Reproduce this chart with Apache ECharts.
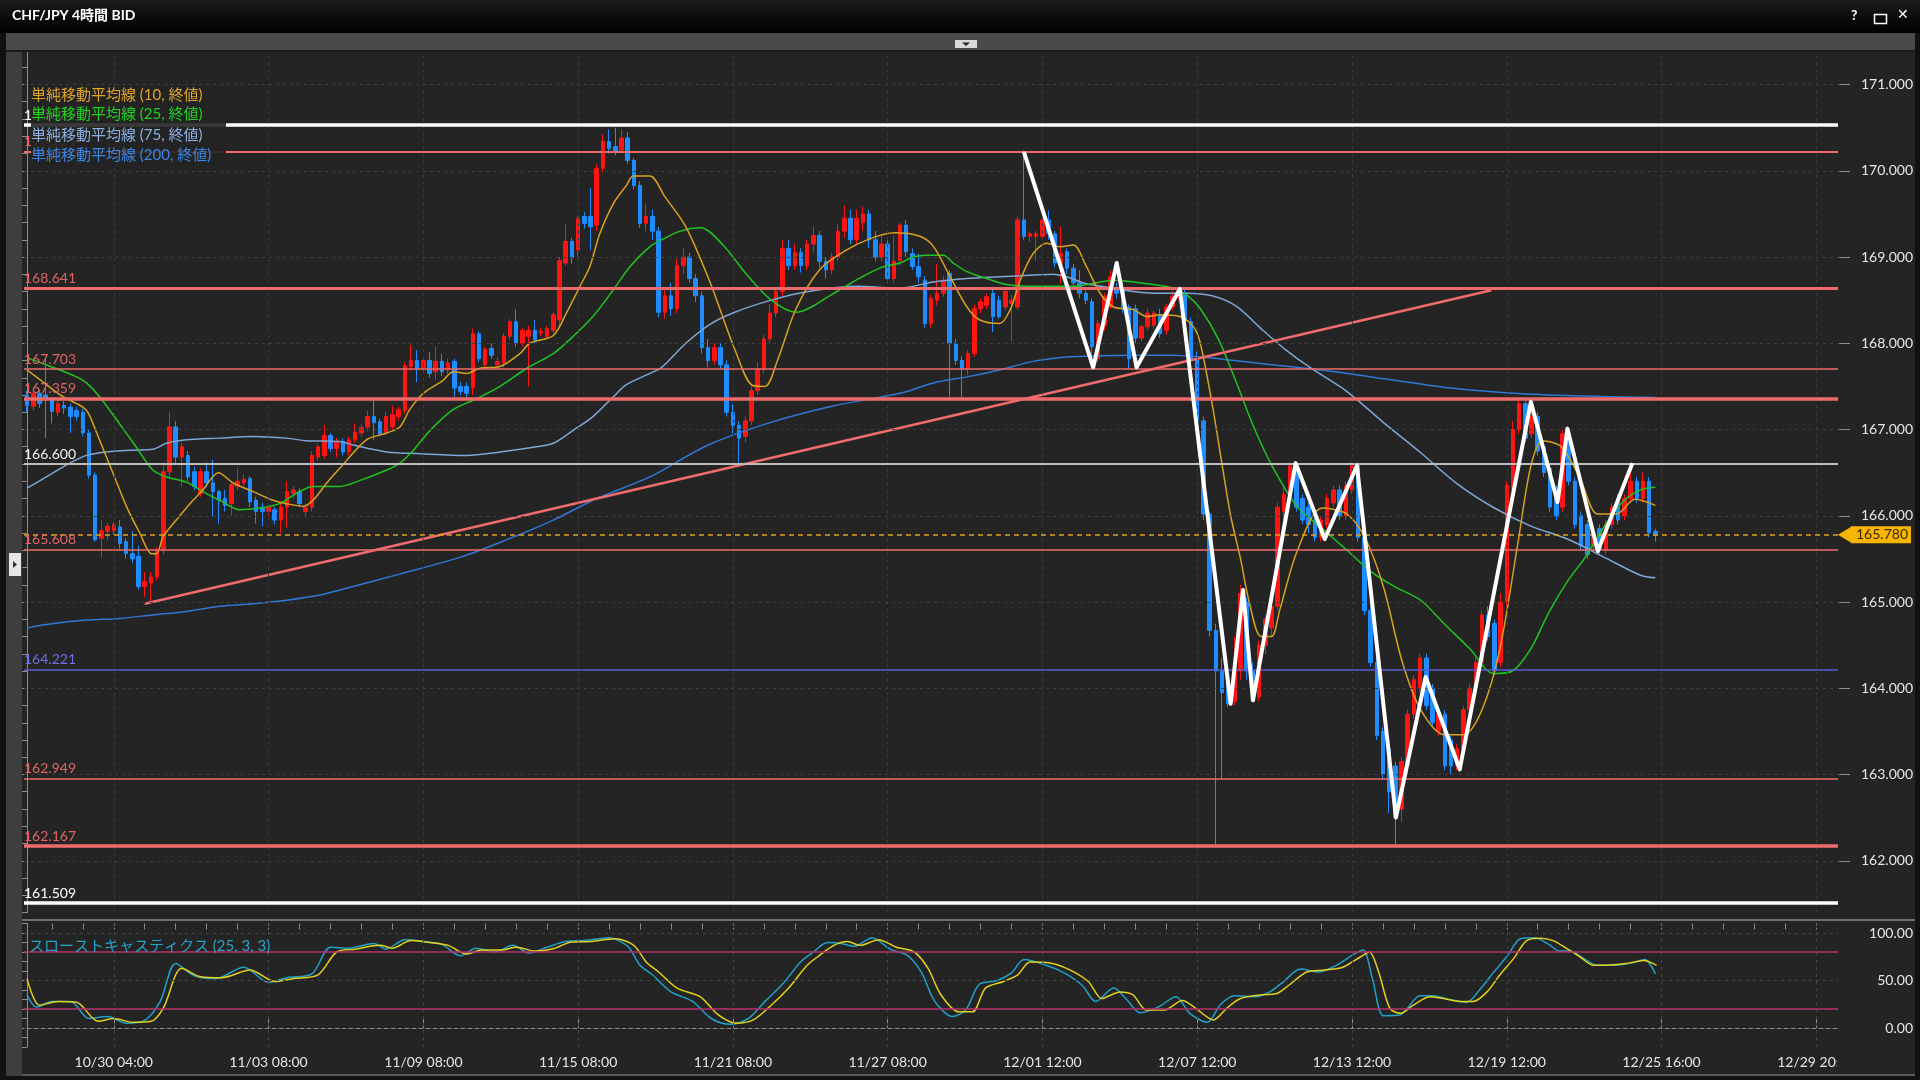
<!DOCTYPE html>
<html><head><meta charset="utf-8">
<script src="https://cdn.jsdelivr.net/npm/echarts@6/dist/echarts.min.js"></script>
<style>html,body{margin:0;padding:0;background:#000;}#c{width:1920px;height:1080px;}</style>
</head><body><div id="c"></div>
<script>
// ---------- DATA ----------
const timeLabels = ['10/30 04:00','11/03 08:00','11/09 08:00','11/15 08:00','11/21 08:00','11/27 08:00','12/01 12:00','12/07 12:00','12/13 12:00','12/19 12:00','12/25 16:00','12/29 20:00'];
const firstLabelIndex = 14, labelStep = 25, minorStep = 5, slotCount = 293;

// [open, close, low, high]
const candles = [
[167.39,167.28,167.20,167.45],[167.27,167.42,167.22,167.48],[167.42,167.30,167.25,167.46],[167.40,167.36,166.90,167.82],[167.34,167.21,167.07,167.38],
[167.20,167.30,167.15,167.35],[167.28,167.25,167.18,167.33],[167.26,167.15,166.96,167.30],[167.22,167.15,167.10,167.26],[167.20,166.96,166.92,167.24],
[166.96,166.47,166.43,167.00],[166.47,165.72,165.70,166.50],[165.74,165.83,165.52,165.95],[165.82,165.88,165.72,165.92],[165.83,165.90,165.78,165.93],
[165.87,165.68,165.62,165.95],[165.70,165.56,165.50,165.74],[165.56,165.50,165.45,165.82],[165.53,165.18,165.14,165.65],[165.18,165.24,165.06,165.35],
[165.22,165.29,165.00,165.35],[165.29,165.60,165.25,165.64],[165.60,166.51,165.55,166.60],[166.51,167.03,166.45,167.20],[167.03,166.68,166.60,167.10],
[166.68,166.80,166.34,166.85],[166.70,166.45,166.40,166.75],[166.51,166.34,166.30,166.57],[166.26,166.51,166.22,166.55],[166.51,166.38,166.33,166.62],
[166.38,166.28,165.99,166.65],[166.28,166.18,165.91,166.30],[166.20,166.12,166.05,166.30],[166.14,166.36,166.00,166.40],[166.34,166.40,166.30,166.55],
[166.38,166.42,166.34,166.48],[166.43,166.16,166.10,166.46],[166.18,166.05,165.91,166.22],[166.10,166.05,165.88,166.15],[166.05,166.10,166.00,166.14],
[166.07,165.95,165.90,166.10],[165.95,166.10,165.80,166.14],[166.10,166.28,165.86,166.40],[166.26,166.30,166.20,166.34],[166.28,166.14,166.10,166.32],
[166.05,166.10,166.00,166.14],[166.10,166.70,166.05,166.75],[166.68,166.80,166.64,166.84],[166.70,166.93,166.66,167.05],[166.93,166.78,166.74,166.96],
[166.78,166.86,166.68,166.90],[166.86,166.74,166.70,166.90],[166.74,166.88,166.70,166.92],[166.88,166.97,166.84,167.07],[166.96,167.02,166.92,167.06],
[167.03,167.15,166.98,167.22],[167.15,167.08,166.88,167.35],[167.09,166.95,166.92,167.12],[166.97,167.15,166.94,167.20],[167.03,167.17,167.00,167.28],
[167.15,167.23,167.10,167.26],[167.22,167.74,167.18,167.78],[167.73,167.80,167.68,167.98],[167.80,167.71,167.55,167.92],[167.72,167.80,167.66,167.84],
[167.80,167.65,167.60,167.90],[167.67,167.79,167.57,167.96],[167.79,167.67,167.62,167.88],[167.69,167.77,167.64,167.82],[167.79,167.48,167.38,167.82],
[167.50,167.44,167.40,167.55],[167.50,167.42,167.35,167.54],[167.48,168.11,167.40,168.17],[168.11,167.82,167.78,168.14],[167.75,167.93,167.70,167.96],
[167.94,167.86,167.82,168.00],[167.75,167.79,167.70,167.84],[167.77,168.08,167.72,168.12],[168.08,168.25,168.04,168.28],[168.25,168.00,167.96,168.39],
[168.00,168.15,167.96,168.18],[168.08,168.15,167.50,168.20],[168.15,168.04,168.00,168.27],[168.12,168.14,168.08,168.18],[168.08,168.17,168.05,168.20],
[168.15,168.33,168.10,168.36],[168.27,168.96,168.20,169.00],[168.93,169.18,168.90,169.39],[169.18,168.99,168.92,169.22],[169.08,169.45,169.00,169.48],
[169.47,169.39,169.33,169.52],[169.47,169.35,169.08,169.80],[169.37,170.03,169.30,170.08],[170.03,170.34,169.98,170.42],[170.34,170.26,170.20,170.48],
[170.28,170.22,170.18,170.50],[170.24,170.38,170.20,170.48],[170.38,170.12,170.08,170.45],[170.12,169.83,169.78,170.15],[169.83,169.39,169.34,169.88],
[169.39,169.47,169.30,169.62],[169.47,169.30,169.20,169.55],[169.30,168.36,168.30,169.35],[168.36,168.55,168.28,168.62],[168.55,168.40,168.32,168.70],
[168.40,168.90,168.35,168.98],[168.90,169.00,168.80,169.10],[169.00,168.75,168.70,169.05],[168.75,168.55,168.48,168.80],[168.55,167.95,167.88,168.60],
[167.95,167.80,167.72,168.05],[167.80,167.95,167.75,168.00],[167.95,167.75,167.70,168.00],[167.75,167.20,167.15,167.80],[167.20,167.05,166.95,167.30],
[167.05,166.90,166.60,167.10],[166.92,167.10,166.85,167.15],[167.10,167.45,167.05,167.50],[167.45,167.70,167.40,167.78],[167.70,168.05,167.65,168.10],
[168.05,168.35,168.00,168.45],[168.35,168.60,168.30,168.65],[168.60,169.10,168.55,169.20],[169.10,168.90,168.85,169.20],[168.90,169.05,168.85,169.15],
[169.05,168.90,168.82,169.10],[168.90,169.15,168.85,169.20],[169.15,169.25,169.05,169.35],[169.25,168.95,168.88,169.30],[168.95,168.85,168.75,169.00],
[168.85,169.00,168.80,169.05],[169.00,169.30,168.95,169.38],[169.30,169.45,169.22,169.60],[169.45,169.20,169.15,169.55],[169.20,169.45,169.15,169.55],
[169.40,169.50,169.30,169.58],[169.50,169.20,169.10,169.55],[169.20,169.00,168.95,169.30],[169.00,169.15,168.95,169.25],[169.15,168.75,168.70,169.20],
[168.75,168.95,168.70,169.25],[168.96,169.37,168.90,169.40],[169.37,169.06,169.00,169.43],[169.04,168.89,168.85,169.10],[168.89,168.77,168.70,169.04],
[168.73,168.23,168.18,168.78],[168.23,168.52,168.18,168.56],[168.50,168.58,168.44,168.92],[168.58,168.73,168.54,168.78],[168.81,168.00,167.38,168.85],
[168.00,167.80,167.75,168.05],[167.80,167.71,167.38,167.85],[167.71,167.88,167.63,167.92],[167.88,168.40,167.84,168.45],[168.40,168.48,168.35,168.52],
[168.44,168.54,168.40,168.58],[168.58,168.31,168.13,168.62],[168.50,168.31,168.28,168.55],[168.42,168.60,168.38,168.64],[168.46,168.50,168.02,168.56],
[168.42,169.43,168.38,169.47],[169.43,169.24,169.20,170.24],[169.24,169.27,169.18,169.30],[169.24,169.27,168.96,169.30],[169.24,169.43,169.20,169.47],
[169.43,169.27,169.20,169.54],[169.27,168.93,168.88,169.30],[168.93,169.04,168.69,169.35],[169.06,168.87,168.80,169.10],[168.87,168.70,168.65,168.92],
[168.70,168.58,168.52,168.85],[168.58,168.50,168.45,168.62],[168.48,167.96,167.70,168.52],[167.82,168.23,167.78,168.27],[168.20,168.54,168.15,168.58],
[168.42,168.77,168.40,168.85],[168.64,168.58,168.52,168.70],[168.62,168.40,168.35,168.70],[168.42,167.82,167.71,168.45],[168.40,168.06,168.00,168.45],
[168.06,168.19,168.02,168.22],[168.19,168.35,168.15,168.40],[168.21,168.35,168.17,168.38],[168.33,168.11,168.06,168.40],[168.15,168.42,168.10,168.46],
[168.42,168.54,168.38,168.60],[168.54,168.60,168.50,168.65],[168.58,168.27,168.22,168.62],[168.25,167.82,167.75,168.30],[167.82,167.10,167.05,167.90],
[167.10,166.02,165.95,167.15],[166.02,164.67,164.60,166.05],[164.67,164.20,162.18,164.75],[164.20,163.95,162.95,164.35],[164.10,163.82,163.78,164.25],
[163.85,164.20,163.80,164.60],[164.20,165.10,164.10,165.20],[165.00,164.20,164.10,165.05],[164.20,163.90,163.85,164.30],[163.90,164.50,163.85,164.55],
[164.50,164.80,164.40,164.85],[164.70,164.95,164.60,165.00],[164.95,166.10,164.90,166.15],[166.05,166.25,165.95,166.35],[166.20,166.58,166.10,166.62],
[166.55,166.10,166.05,166.60],[166.20,165.95,165.90,166.25],[166.10,165.90,165.80,166.15],[165.95,165.75,165.70,166.00],[165.75,165.95,165.70,166.00],
[165.90,166.20,165.85,166.25],[166.15,166.30,166.10,166.35],[166.30,166.00,165.95,166.35],[166.00,166.35,165.95,166.40],[166.30,166.58,166.25,166.62],
[166.58,165.75,165.70,166.62],[165.75,164.90,164.85,165.80],[164.90,164.30,164.25,164.95],[164.30,163.45,163.40,164.35],[163.50,163.00,162.95,163.55],
[163.30,162.80,162.55,163.35],[163.10,162.50,162.18,163.15],[162.60,163.15,162.45,163.20],[163.10,163.70,163.00,163.75],[163.70,164.10,163.65,164.15],
[164.00,164.35,163.95,164.40],[164.35,163.80,163.75,164.40],[164.00,163.60,163.55,164.05],[163.50,163.70,163.45,163.75],[163.70,163.10,163.05,163.75],
[163.40,163.10,163.00,163.45],[163.10,163.30,163.05,163.35],[163.30,163.75,163.25,163.80],[163.75,164.00,163.70,164.05],[164.00,164.30,163.95,164.35],
[164.30,164.85,164.25,164.90],[164.85,164.60,164.55,164.95],[164.75,164.20,164.15,164.80],[164.30,165.00,164.25,165.10],[165.00,166.35,164.95,166.40],
[166.30,167.00,166.25,167.10],[167.00,167.30,166.95,167.38],[167.30,166.90,166.85,167.35],[166.95,167.15,166.90,167.25],[167.15,166.75,166.70,167.20],
[166.80,166.50,166.45,166.85],[166.55,166.10,166.05,166.60],[166.30,166.00,165.95,166.35],[166.10,166.95,166.05,167.00],[166.95,166.40,166.35,167.00],
[166.40,165.90,165.85,166.45],[166.00,165.65,165.60,166.05],[165.90,165.55,165.50,165.95],[165.65,165.80,165.60,165.85],[165.85,165.60,165.55,165.90],
[165.60,165.90,165.55,165.95],[165.90,166.10,165.85,166.15],[166.20,165.95,165.90,166.25],[166.00,166.20,165.95,166.25],[166.20,166.40,166.15,166.60],
[166.40,166.20,166.15,166.45],[166.20,166.40,166.15,166.50],[166.40,165.80,165.75,166.45],[165.82,165.78,165.70,165.85]
];

// moving averages: [bar index, value]
const ma10 = [[0,167.69],[2.6,167.55],[5.8,167.38],[9,167.26],[9.9,167.19],[11.7,166.88],[13.9,166.49],[16.1,166.10],[18.2,165.80],[20.1,165.56],[20.9,165.56],[22,165.76],[24.1,165.95],[26.3,166.14],[28.4,166.30],[30.9,166.50],[33.3,166.38],[36.5,166.28],[39.7,166.18],[41.9,166.14],[44.6,166.11],[46.2,166.18],[48.4,166.38],[50.5,166.55],[54.8,166.88],[58.1,166.96],[60.2,167.03],[61.8,167.23],[64,167.42],[67.2,167.57],[68.8,167.67],[71,167.65],[73.1,167.71],[76.4,167.73],[79.6,167.88],[81.2,168.0],[85,168.09],[87.1,168.35],[89.3,168.66],[90.9,168.89],[92.5,169.27],[94.7,169.62],[96.8,169.83],[97.9,169.94],[100.6,169.94],[103,169.70],[106.4,169.35],[110.3,168.71],[114.3,167.93],[117.2,167.51],[119.2,167.50],[121.2,167.80],[124.2,168.40],[128.1,168.86],[132.1,169.07],[136.1,169.21],[140.1,169.28],[144.2,169.24],[146.4,169.12],[149.1,168.77],[151.8,168.42],[153.9,168.27],[157.1,168.23],[158.8,168.39],[160.4,168.73],[162.5,169.04],[164.7,169.16],[166.8,169.12],[169,169.14],[171.1,168.89],[173.3,168.58],[175.5,168.42],[178.7,168.39],[180.8,168.31],[183,168.33],[186.2,168.31],[188.4,168.19],[189.5,168.0],[191.4,167.3],[193,166.6],[194.4,166.0],[196,165.5],[197.4,165.0],[199.3,164.6],[201,164.6],[202.3,164.9],[205.2,165.6],[209.2,166.09],[213.2,166.02],[216.2,165.73],[219.1,165.17],[222.1,164.31],[225.1,163.75],[229,163.46],[232,163.46],[235,163.75],[237.9,164.46],[240.9,165.73],[242.9,166.58],[244.8,166.87],[247.8,166.80],[250.8,166.44],[253.7,166.02],[256.7,166.02],[259.7,166.19],[263,166.12]];
const ma25 = [[0,167.83],[3.1,167.75],[8,167.61],[9.6,167.54],[11.7,167.38],[14.9,167.07],[17.6,166.80],[20.3,166.53],[22.5,166.45],[25.7,166.39],[28.9,166.26],[31.1,166.18],[34.3,166.07],[37.6,166.09],[40.8,166.14],[43.5,166.26],[46.2,166.34],[50.5,166.34],[53.8,166.41],[58.1,166.53],[60.2,166.61],[62.4,166.76],[65.1,166.99],[68.8,167.23],[72.1,167.34],[76.4,167.50],[80.7,167.71],[85,167.88],[88.2,168.08],[91.4,168.31],[94.7,168.62],[97.4,168.89],[100.6,169.12],[102.5,169.20],[105.5,169.30],[108.8,169.34],[112.4,169.14],[116.3,168.79],[120.2,168.50],[124.2,168.36],[130.1,168.57],[134.1,168.74],[138,168.88],[141,168.93],[143.1,169.0],[145.3,169.02],[148,169.02],[149.6,168.93],[151.8,168.83],[155,168.75],[158.2,168.68],[161.5,168.66],[165.2,168.66],[169,168.66],[171.1,168.68],[175.5,168.73],[178.7,168.71],[181.9,168.68],[185.1,168.64],[187.3,168.56],[189.5,168.40],[192.4,168.05],[195.3,167.55],[198.3,167.0],[201.3,166.55],[205.2,166.1],[209.2,165.85],[213.2,165.6],[217.1,165.35],[221.1,165.17],[225.1,165.02],[229,164.74],[233,164.46],[236.9,164.17],[239.9,164.20],[242.9,164.46],[245.8,164.88],[248.8,165.24],[251.7,165.52],[254.7,165.87],[257.7,166.16],[260.6,166.30],[263,166.33]];
const ma75 = [[0,166.32],[3.1,166.45],[6.9,166.61],[9.6,166.70],[12.9,166.74],[16.7,166.76],[20.3,166.77],[22.5,166.84],[25.7,166.88],[31.1,166.90],[36.5,166.92],[41.9,166.90],[45.1,166.87],[50.5,166.86],[52.7,166.82],[58.1,166.74],[63.4,166.72],[71,166.70],[76.4,166.74],[82.3,166.80],[85,166.84],[88.2,166.99],[91.4,167.15],[94.7,167.38],[96.8,167.52],[100.6,167.65],[102.5,167.72],[106.4,168.0],[110.3,168.22],[114.3,168.36],[120.2,168.50],[126.2,168.60],[134.1,168.66],[141,168.64],[146.4,168.71],[151.8,168.75],[157.1,168.77],[162.5,168.79],[165.8,168.80],[167.9,168.77],[171.1,168.69],[175.5,168.64],[178.7,168.60],[181.9,168.58],[187.3,168.58],[191.4,168.55],[195.3,168.43],[199.3,168.17],[203.2,167.93],[207.2,167.72],[213.2,167.44],[219.1,167.08],[225.1,166.73],[231,166.37],[237,166.09],[242.9,165.88],[248.8,165.73],[254.7,165.52],[260.6,165.31],[263,165.28]];
const ma200 = [[0,164.70],[4.2,164.75],[9.6,164.79],[15,164.81],[20.3,164.85],[25.7,164.89],[31.1,164.95],[36.5,164.98],[41.9,165.02],[47.3,165.08],[50.5,165.14],[60,165.32],[70,165.52],[77.4,165.72],[85,165.95],[92,166.2],[100.6,166.45],[110,166.82],[120,167.08],[130,167.27],[141,167.42],[146.4,167.54],[151.8,167.61],[157.1,167.69],[162.5,167.79],[167.9,167.84],[171.1,167.85],[178.7,167.86],[185,167.86],[189.5,167.84],[195,167.80],[200,167.76],[210,167.68],[220,167.58],[230,167.48],[240,167.42],[250,167.39],[263,167.37]];

// slow stochastics: [bar index, value]
const stochD = [[0,52],[2,24],[5,28],[8,27],[11.5,7],[14,10],[17,6],[20,7],[22,21],[25,63],[28,54],[31.5,53],[36,61],[40,49],[43,52],[47,56],[50,80],[53,83],[57,87],[59,84],[62,92],[65,90],[68,87],[71,78],[73.5,82],[76.5,82],[79,85],[82,81],[85,83.5],[88,90.5],[91,91],[95,94],[98,87],[100,69.5],[102,59],[105,42],[108.7,33],[111.6,14],[114.5,5],[117.3,8.5],[120.2,24],[123,42],[126,66],[128,76.5],[130.3,87],[132.5,91],[134.6,87],[137.5,93],[140.4,85],[143.3,80],[145.5,63],[147.6,35],[150.5,17],[152.7,17],[154.8,42],[157.7,49],[160,56],[162,69.5],[165.6,68],[168.5,61],[171.4,49],[173.6,31],[176.5,38],[178.6,35],[180.8,19],[183.7,19],[186.6,29],[188.7,21],[191.6,8.5],[193.8,21],[196,31],[199.5,35],[201.7,36],[203.8,45],[206.7,59],[209.6,61],[212.5,64],[215.4,75],[216.8,80],[218.3,59],[220.1,21],[221.8,15.5],[223.9,24],[226.6,33],[228.8,31],[231.5,28],[233.6,28],[235.8,38],[237.9,56],[240.1,73],[242.2,92],[244.4,94.6],[246.5,92],[248.7,83.5],[250.8,75],[253,66],[255.1,66],[258.4,68],[261.1,71],[263.2,66]];
const stochK = [[0,35],[1.5,22],[4,28],[7,28],[10,10],[13,12],[16,5],[19,8],[21.5,28],[24,68],[27,55],[30.5,52],[35,64],[39,48],[42,53],[46,57],[49,85],[52,84],[56,89],[58,83],[61,93],[64,91],[67,88],[70,76],[72.5,84],[75.5,80],[78.5,87],[81,79],[84,85],[87,91],[90,92],[94,95],[97,86],[99,66],[101,56],[104,38],[107.5,28],[110.5,10],[113.5,4],[116.5,10],[119.2,28],[122,46],[125,70],[127,80],[129.3,90],[131.5,89],[133.6,86],[136.5,95],[139.4,83],[142.3,76],[144.5,58],[146.6,28],[149.5,12],[151.7,20],[153.8,46],[156.7,50],[159,58],[161,72],[164.6,66],[167.5,58],[170.4,45],[172.6,28],[175.5,42],[177.6,30],[179.8,16],[182.7,22],[185.6,33],[187.7,16],[190.6,6],[192.8,25],[195,34],[198.5,33],[200.7,38],[202.8,48],[205.7,62],[208.6,59],[211.5,66],[214.4,78],[215.8,82],[217.3,52],[219.1,13],[221.8,14],[225,34],[227,34],[229.8,30],[232.5,27],[234.6,40],[236.8,58],[239.1,76],[241.2,94],[243.5,95],[245.8,88],[247.5,81],[249.2,81],[251.5,73],[253.5,66],[256.5,66],[259.5,69],[261.3,72],[263,57]];

// horizontal price levels (values only)
const levelValues = [170.532, 170.221, 168.641, 167.703, 167.359, 166.600, 165.608, 164.221, 162.949, 162.167, 161.509];
const currentPrice = 165.780;
const trendLine = [[19, 164.98], [236.5, 168.615]];
const zigzag = [[161.0,170.22],[172.2,167.72],[176.0,168.93],[179.2,167.72],[186.2,168.63],[194.4,163.82],[196.4,165.14],[198.0,163.86],[204.9,166.61],[209.6,165.73],[214.8,166.58],[221.1,162.50],[225.9,164.13],[231.4,163.06],[242.9,167.32],[247.2,166.16],[248.8,167.01],[253.7,165.59],[259.3,166.61]];
const priceTicks = [162,163,164,165,166,167,168,169,170,171];
const stochLabelTicks = [0, 50, 100];
const stochBands = [20, 80];
const legendTexts = ['単純移動平均線 (10, 終値)', '単純移動平均線 (25, 終値)', '単純移動平均線 (75, 終値)', '単純移動平均線 (200, 終値)'];
const stochTitle = 'スローストキャスティクス (25, 3, 3)';
const chartTitle = 'CHF/JPY 4時間 BID';

// ---------- STYLES ----------
const FONT = "Lato, 'Noto Sans CJK JP', sans-serif";
const RED = '#ef6b6b', WHITE = '#ffffff';
const levelStyles = [
  {c: WHITE, w: 3.5, t: '#ffffff'},
  {c: RED, w: 2, t: '#e06464'},
  {c: RED, w: 3, t: '#e06464'},
  {c: RED, w: 1.5, t: '#e06464'},
  {c: RED, w: 3.5, t: '#e06464'},
  {c: '#bdbdbd', w: 2, t: '#f0f0f0'},
  {c: RED, w: 1.5, t: '#e06464'},
  {c: '#5a5ad6', w: 1.5, t: '#7070e8'},
  {c: RED, w: 1.5, t: '#e06464'},
  {c: RED, w: 3.5, t: '#e06464'},
  {c: WHITE, w: 3.5, t: '#ffffff'}
];
const legendColors = ['#e0a528', '#1fd41f', '#8cb2e4', '#3a86e6'];
const legendTops = [88, 107, 128, 148];

const cats = Array.from({length: slotCount}, (_, i) => String(i));
const isMajor = i => i >= firstLabelIndex && (i - firstLabelIndex) % labelStep === 0;
const isMinor = i => (((i - firstLabelIndex) % minorStep) + minorStep) % minorStep === 0;
const majorIdx = cats.map((_, i) => i).filter(isMajor);

const chart = echarts.init(document.getElementById('c'), null, {renderer: 'canvas'});
const axisGray = '#8c8c8c';
const BG = '#242424';

const option = {
  backgroundColor: BG,
  animation: false,
  textStyle: {fontFamily: FONT},
  grid: [
    {left: 24, top: 50, width: 1814, height: 862.5},
    {left: 24, top: 923.5, width: 1814, height: 123.5}
  ],
  xAxis: [
    {type: 'category', gridIndex: 0, data: cats, axisLine: {show: false}, axisTick: {show: false}, axisLabel: {show: false}, splitLine: {show: false}},
    {type: 'category', gridIndex: 1, data: cats, axisLine: {show: true, lineStyle: {color: axisGray}},
      axisTick: {show: true, alignWithLabel: true, inside: true, length: 12, interval: (i) => isMajor(i), lineStyle: {color: axisGray}},
      axisLabel: {show: true, interval: (i) => isMajor(i), formatter: (v, i) => timeLabels[(i - firstLabelIndex) / labelStep] || '', color: '#e6e6e6', fontSize: 14, margin: 8, fontFamily: FONT},
      splitLine: {show: false}},
    {type: 'category', gridIndex: 1, data: cats, axisLine: {show: false},
      axisTick: {show: true, alignWithLabel: true, inside: true, length: 6, interval: (i) => isMinor(i), lineStyle: {color: axisGray}},
      axisLabel: {show: false}, splitLine: {show: false}},
    {type: 'value', gridIndex: 0, min: -0.5, max: slotCount - 0.5, show: false},
    {type: 'value', gridIndex: 1, min: -0.5, max: slotCount - 0.5, show: false}
  ],
  yAxis: [
    {type: 'value', gridIndex: 0, position: 'right', offset: 12, min: 161.4, max: 171.4, interval: 0.2,
      axisLine: {show: true, lineStyle: {color: axisGray}},
      axisTick: {show: true, inside: true, length: 5, lineStyle: {color: axisGray}},
      axisLabel: {color: '#e6e6e6', fontSize: 14, align: 'right', margin: 63, fontFamily: FONT,
        formatter: v => Math.abs(v - Math.round(v)) < 1e-6 ? Math.round(v).toFixed(3) : ''},
      splitLine: {show: false}},
    {type: 'value', gridIndex: 0, position: 'right', offset: 12, min: 161.4, max: 171.4,
      axisLine: {show: false},
      axisTick: {show: true, inside: true, length: 11, customValues: priceTicks, lineStyle: {color: axisGray}},
      axisLabel: {show: false}, splitLine: {show: false}},
    {type: 'value', gridIndex: 1, position: 'right', offset: 12, min: -20, max: 110, interval: 10,
      axisLine: {show: true, lineStyle: {color: axisGray}},
      axisTick: {show: true, inside: true, length: 6, lineStyle: {color: axisGray}},
      axisLabel: {color: '#e6e6e6', fontSize: 14, align: 'right', margin: 63, fontFamily: FONT,
        formatter: v => stochLabelTicks.indexOf(Math.round(v)) >= 0 && Math.abs(v - Math.round(v)) < 1e-6 ? v.toFixed(2) : ''},
      splitLine: {show: false}}
  ],
  series: [
    {type: 'line', xAxisIndex: 3, yAxisIndex: 0, data: [], z: 1, silent: true,
      markLine: {silent: true, symbol: ['none', 'none'], animation: false, label: {show: false},
        lineStyle: {color: '#3d3d3d', type: [3, 4], width: 1},
        data: priceTicks.map(v => ({yAxis: v})).concat(majorIdx.map(i => ({xAxis: i})))}},
    {type: 'line', xAxisIndex: 4, yAxisIndex: 2, data: [], z: 1, silent: true,
      markLine: {silent: true, symbol: ['none', 'none'], animation: false, label: {show: false},
        lineStyle: {color: '#444444', type: [3, 4], width: 1},
        data: stochLabelTicks.map(v => ({yAxis: v})).concat(majorIdx.map(i => ({xAxis: i})))
          .concat(stochBands.map(v => ({yAxis: v, lineStyle: {color: '#b8306c', type: 'solid', width: 1.5}})))}},
    {type: 'candlestick', name: 'CHF/JPY', xAxisIndex: 0, yAxisIndex: 0, data: candles, barWidth: 4, z: 2,
      itemStyle: {color: '#ff1414', color0: '#1f8cff', borderColor: '#ff1414', borderColor0: '#1f8cff', borderWidth: 1}},
    {type: 'line', name: 'MA200', xAxisIndex: 3, yAxisIndex: 0, data: ma200, showSymbol: false, smooth: 0.3, z: 3, lineStyle: {color: '#2f78d6', width: 1.5}},
    {type: 'line', name: 'MA75', xAxisIndex: 3, yAxisIndex: 0, data: ma75, showSymbol: false, smooth: 0.3, z: 3, lineStyle: {color: '#7ea6d6', width: 1.5}},
    {type: 'line', name: 'MA25', xAxisIndex: 3, yAxisIndex: 0, data: ma25, showSymbol: false, smooth: 0.3, z: 3, lineStyle: {color: '#1fc41f', width: 1.5}},
    {type: 'line', name: 'MA10', xAxisIndex: 3, yAxisIndex: 0, data: ma10, showSymbol: false, smooth: 0.3, z: 3, lineStyle: {color: '#d9a21e', width: 1.5}},
    {type: 'line', name: 'trend', xAxisIndex: 3, yAxisIndex: 0, data: trendLine, showSymbol: false, z: 4,
      lineStyle: {color: '#f06c6c', width: 2.5},
      markLine: {silent: true, symbol: ['none', 'none'], animation: false,
        data: levelValues.map((v, k) => ({yAxis: v,
          lineStyle: {color: levelStyles[k].c, width: levelStyles[k].w, type: 'solid'},
          label: {show: true, position: 'insideStartTop', formatter: v.toFixed(3), color: levelStyles[k].t, fontSize: 14, fontFamily: FONT, distance: [0, 3]}}))
          .concat([{yAxis: currentPrice,
            lineStyle: {color: '#e3a21c', width: 1.5, type: [5, 4]},
            label: {show: true, position: 'end', formatter: currentPrice.toFixed(3), color: '#3b2a00', backgroundColor: '#f7b500', fontSize: 14, fontFamily: FONT, padding: [2, 3, 1, 5], distance: 13}}])
      },
      markPoint: {silent: true, animation: false, symbol: 'triangle', symbolSize: [17, 14], symbolRotate: 90, symbolOffset: [7, 0],
        itemStyle: {color: '#f7b500'}, label: {show: false},
        data: [{coord: [slotCount - 0.5, currentPrice]}]}},
    {type: 'line', name: 'zigzag', xAxisIndex: 3, yAxisIndex: 0, data: zigzag, showSymbol: false, z: 6,
      lineStyle: {color: '#ffffff', width: 4, join: 'round'}},
    {type: 'line', name: 'SlowD', xAxisIndex: 4, yAxisIndex: 2, data: stochD, showSymbol: false, smooth: 0.3, z: 3, lineStyle: {color: '#e2d21a', width: 1.5}},
    {type: 'line', name: 'SlowK', xAxisIndex: 4, yAxisIndex: 2, data: stochK, showSymbol: false, smooth: 0.3, z: 2, lineStyle: {color: '#1fa2c8', width: 1.5}}
  ],
  graphic: [
    {type: 'rect', left: 0, top: 0, z: 100, shape: {width: 1920, height: 33},
      style: {fill: new echarts.graphic.LinearGradient(0, 0, 0, 1, [{offset: 0, color: '#1a1a1a'}, {offset: 1, color: '#000000'}])}},
    {type: 'text', left: 12, top: 8, z: 101, style: {text: chartTitle, fill: '#ffffff', font: "bold 14px Lato, 'Noto Sans CJK JP', sans-serif"}},
    {type: 'text', left: 1851, top: 8, z: 101, style: {text: '?', fill: '#ffffff', font: 'bold 14px Lato, sans-serif'}},
    {type: 'rect', left: 1872, top: 12, z: 101, shape: {width: 12, height: 9}, style: {fill: 'none', stroke: '#ffffff', lineWidth: 1.5}},
    {type: 'text', left: 1897, top: 8, z: 101, style: {text: '✕', fill: '#ffffff', font: '14px DejaVu Sans, sans-serif'}},
    {type: 'rect', left: 0, top: 33, z: 100, shape: {width: 1920, height: 17}, style: {fill: '#4a4a4a'}},
    {type: 'rect', left: 0, top: 50, z: 100, shape: {width: 1920, height: 2}, style: {fill: '#1a1a1a'}},
    {type: 'rect', left: 955, top: 40, z: 101, shape: {width: 22, height: 8}, style: {fill: '#d9d9d9'}},
    {type: 'polygon', z: 102, shape: {points: [[962, 42.5], [970, 42.5], [966, 46]]}, style: {fill: '#222'}},
    {type: 'rect', left: 0, top: 33, z: 100, shape: {width: 6, height: 1047}, style: {fill: '#111111'}},
    {type: 'rect', left: 6, top: 52, z: 100, shape: {width: 16, height: 1028}, style: {fill: '#3e3e3e'}},
    {type: 'rect', left: 9, top: 553, z: 101, shape: {width: 12, height: 23}, style: {fill: '#e6e6e6'}},
    {type: 'polygon', z: 102, shape: {points: [[13, 561], [13, 568], [17, 564.5]]}, style: {fill: '#333'}},
    {type: 'rect', left: 1915, top: 33, z: 100, shape: {width: 5, height: 1047}, style: {fill: '#111111'}},
    {type: 'rect', left: 22, top: 919, z: 100, shape: {width: 1893, height: 2}, style: {fill: '#6e6e6e'}},
    {type: 'rect', left: 1837, top: 1052, z: 100, shape: {width: 78, height: 22}, style: {fill: BG}},
    {type: 'rect', left: 22, top: 1074, z: 100, shape: {width: 1893, height: 2}, style: {fill: '#5a5a5a'}},
    {type: 'rect', left: 0, top: 1076, z: 100, shape: {width: 1920, height: 4}, style: {fill: '#111111'}},
    // legend box (hides the level labels/lines behind it)
    {type: 'rect', left: 31, top: 87, z: 105, shape: {width: 195, height: 79}, style: {fill: 'rgba(36,36,36,0.9)'}}
  ].concat(legendTexts.map((t, k) => ({type: 'text', left: 31, top: legendTops[k], z: 110,
      style: {text: t, fill: legendColors[k], font: "15px Lato, 'Noto Sans CJK JP', sans-serif"}})))
   .concat([{type: 'text', left: 29, top: 939, z: 110,
      style: {text: stochTitle, fill: '#2aa2c8', font: "15px Lato, 'Noto Sans CJK JP', sans-serif"}}])
};
chart.setOption(option);
</script>
</body></html>
